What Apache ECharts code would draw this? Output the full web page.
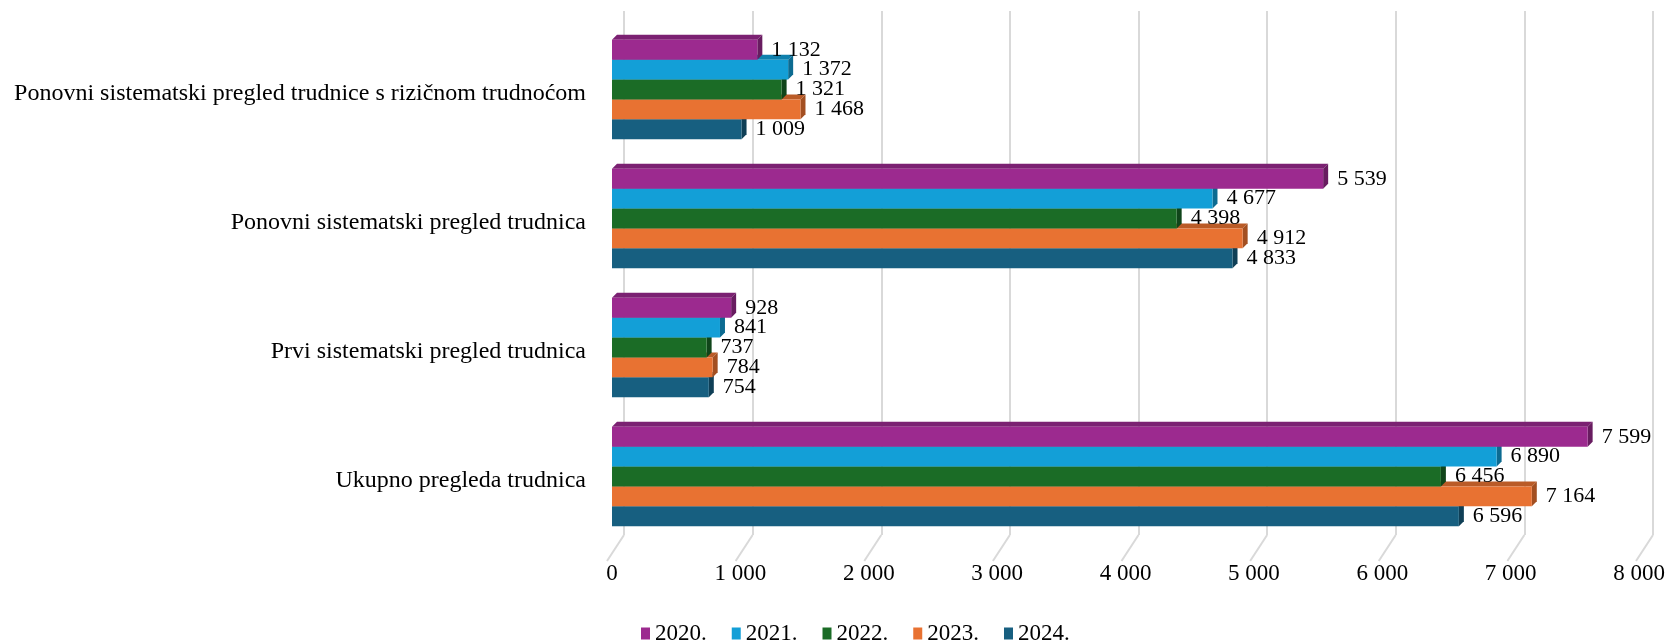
<!DOCTYPE html>
<html>
<head>
<meta charset="utf-8">
<script src="https://cdn.jsdelivr.net/npm/echarts@6/dist/echarts.min.js"></script>
<style>html,body{margin:0;padding:0;background:#fff}#c{width:1668px;height:642px}</style>
</head>
<body>
<div id="c"></div>
<script>
const categories = [
  'Ukupno pregleda trudnica',
  'Prvi sistematski pregled trudnica',
  'Ponovni sistematski pregled trudnica',
  'Ponovni sistematski pregled trudnice s rizičnom trudnoćom'
];
const years = ['2020.', '2021.', '2022.', '2023.', '2024.'];
const v2020 = [7599, 928, 5539, 1132];
const v2021 = [6890, 841, 4677, 1372];
const v2022 = [6456, 737, 4398, 1321];
const v2023 = [7164, 784, 4912, 1468];
const v2024 = [6596, 754, 4833, 1009];
const xTicks = [0, 1000, 2000, 3000, 4000, 5000, 6000, 7000, 8000];

const seriesValues = [v2020, v2021, v2022, v2023, v2024];
const palette = [
  {front: '#9C2A8F', top: '#7B2172', side: '#681C60'},
  {front: '#139FD7', top: '#0F80AD', side: '#0C6B91'},
  {front: '#1B6C26', top: '#15561E', side: '#10451A'},
  {front: '#E87232', top: '#BA5B27', side: '#A34F21'},
  {front: '#175F80', top: '#134C67', side: '#0F3F56'}
];
const FONT = '"Liberation Serif", "DejaVu Serif", serif';
const fmt = v => String(v).replace(/\B(?=(\d{3})+(?!\d))/g, ' ');

function makeBarSeries(idx) {
  const col = palette[idx];
  return {
    type: 'custom',
    name: years[idx],
    xAxisIndex: 0, yAxisIndex: 0,
    z: 3,
    itemStyle: {color: col.front},
    encode: {x: 0, y: 1},
    data: seriesValues[idx].map((v, i) => [v, i]),
    renderItem: function (params, api) {
      const val = api.value(0);
      const cat = api.value(1);
      const end = api.coord([val, cat]);
      const start = api.coord([0, cat]);
      const band = api.size([0, 1])[1];
      const bh = band * 0.77 / 5;
      const yTop = start[1] - 2.5 * bh + idx * bh;
      const x0 = start[0], x1 = end[0];
      const d = 5;
      const zb = (5 - idx) * 3;
      return {
        type: 'group',
        children: [
          {type: 'polygon', z2: zb, shape: {points: [[x0, yTop], [x0 + d, yTop - d], [x1 + d, yTop - d], [x1, yTop]]}, style: {fill: col.top}},
          {type: 'polygon', z2: zb + 1, shape: {points: [[x1, yTop], [x1 + d, yTop - d], [x1 + d, yTop + bh - d], [x1, yTop + bh]]}, style: {fill: col.side}},
          {type: 'rect', z2: zb + 2, shape: {x: x0, y: yTop, width: x1 - x0, height: bh}, style: {fill: col.front}},
          {type: 'text', z2: 100, x: x1 + d + 9, y: yTop + bh / 2,
           style: {text: fmt(val), fill: '#000', font: '22px ' + FONT, verticalAlign: 'middle', align: 'left'}}
        ]
      };
    }
  };
}

const chart = echarts.init(document.getElementById('c'), null, {renderer: 'canvas'});
chart.setOption({
  animation: false,
  backgroundColor: '#fff',
  grid: [
    {left: 612, width: 1029, top: 25, height: 516},
    {left: 624, width: 1029, top: 11, height: 524},
    {left: 612, width: 1029, top: 29.5, height: 516}
  ],
  xAxis: [
    {gridIndex: 0, type: 'value', min: xTicks[0], max: xTicks[xTicks.length - 1], interval: xTicks[1] - xTicks[0],
     axisLine: {show: false}, axisTick: {show: false}, splitLine: {show: false},
     axisLabel: {margin: 21, color: '#000', fontSize: 23, fontFamily: FONT, formatter: v => fmt(v)}},
    {gridIndex: 1, type: 'value', min: xTicks[0], max: xTicks[xTicks.length - 1], interval: xTicks[1] - xTicks[0],
     axisLine: {show: false}, axisTick: {show: false}, axisLabel: {show: false},
     splitLine: {show: true, lineStyle: {color: '#d9d9d9', width: 2}}},
    {gridIndex: 2, type: 'value', min: 0, max: 1, show: false}
  ],
  yAxis: [
    {gridIndex: 0, type: 'category', data: categories, show: false},
    {gridIndex: 1, type: 'value', min: 0, max: 1, show: false},
    {gridIndex: 2, type: 'category', data: categories,
     axisLine: {show: false}, axisTick: {show: false}, splitLine: {show: false},
     axisLabel: {margin: 26, color: '#000', fontSize: 24, fontFamily: FONT}}
  ],
  legend: {
    data: years, left: 636, top: 617, icon: 'rect', itemWidth: 9, itemHeight: 12, itemGap: 25,
    textStyle: {color: '#000', fontSize: 23, fontFamily: FONT}
  },
  series: [
    {
      type: 'custom', xAxisIndex: 1, yAxisIndex: 1, z: 1, silent: true,
      data: xTicks.map(v => [v, 0]),
      renderItem: function (params, api) {
        const p = api.coord([api.value(0), 0]);
        return {type: 'line', shape: {x1: p[0], y1: p[1], x2: p[0] - 17, y2: p[1] + 26},
                style: {stroke: '#d9d9d9', lineWidth: 2}};
      }
    },
    makeBarSeries(0), makeBarSeries(1), makeBarSeries(2), makeBarSeries(3), makeBarSeries(4)
  ]
});
</script>
</body>
</html>
